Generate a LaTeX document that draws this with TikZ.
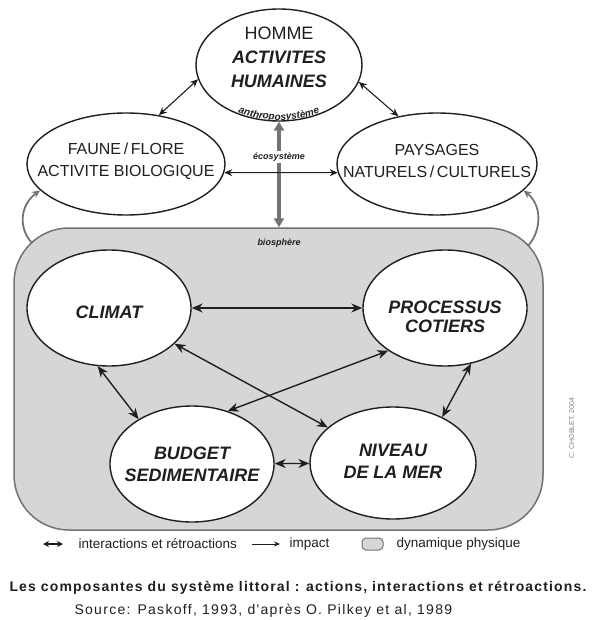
\documentclass[tikz,border=0pt]{standalone}
\usepackage{fontspec}
\setmainfont{Liberation Sans}
\newfontfamily\capfont[LetterSpace=8.2]{Liberation Sans}
\newfontfamily\srcfont[LetterSpace=9.3]{Liberation Sans}
\usetikzlibrary{shapes.geometric,arrows.meta,decorations.text}

\definecolor{biogray}{gray}{0.84}
\definecolor{edgegray}{gray}{0.45}
\definecolor{ink}{gray}{0.12}

\tikzset{
  blob/.style={ellipse, draw=ink, line width=1.4pt, fill=white, inner sep=0pt},
  biobox/.style={rectangle, rounded corners=55pt, fill=biogray, draw=edgegray, line width=1.5pt},
  bigtxt/.style={align=center, text=ink, font=\bfseries\itshape\fontsize{18}{21}\selectfont},
  toptxt/.style={align=center, text=ink, font=\fontsize{16}{22}\selectfont},
  both/.style={{Stealth[length=11pt,width=9pt]}-{Stealth[length=11pt,width=9pt]}, line width=1.4pt, draw=ink},
  smallboth/.style={{Stealth[length=8pt,width=7pt]}-{Stealth[length=8pt,width=7pt]}, line width=1.1pt, draw=ink},
  ecoarrow/.style={{Triangle[length=9pt,width=10pt]}-{Triangle[length=9pt,width=10pt]}, line width=4pt, draw=edgegray},
  feedback/.style={-{Stealth[length=8pt,width=7pt]}, line width=1.8pt, draw=edgegray},
  tag/.style={text=ink, font=\bfseries\itshape\fontsize{9}{9}\selectfont},
  legend/.style={anchor=west, text=ink, font=\fontsize{13.5}{14}\selectfont},
}

\begin{document}
\begin{tikzpicture}[x=1pt,y=-1pt]
  \useasboundingbox (0,0) rectangle (596,620);

  \node[biobox, minimum width=529pt, minimum height=302pt] (bio) at (278.5,379) {};

  \coordinate (lfoot) at (32,243);
  \coordinate (rfoot) at (528,246);

  \node[blob, minimum width=166pt, minimum height=112pt] (homme) at (279,65) {};
  \node[blob, minimum width=198pt, minimum height=102pt] (faune) at (126,164) {};
  \node[blob, minimum width=200pt, minimum height=102pt] (pays) at (437,164) {};

  \node[blob, minimum width=164pt, minimum height=116pt] (climat) at (109,308) {};
  \node[blob, minimum width=164pt, minimum height=116pt] (proc) at (445,308) {};
  \node[blob, minimum width=164pt, minimum height=116pt] (budget) at (192,464) {};
  \node[blob, minimum width=166pt, minimum height=112pt] (niveau) at (393,463) {};

  % labels
  \node[align=center, text=ink, font=\fontsize{18}{24}\selectfont, inner sep=0pt] (homme-t) at (279,57)
       {HOMME\\\textbf{\textit{ACTIVITES}}\\\textbf{\textit{HUMAINES}}};
  \node[toptxt] (faune-t) at (126,161) {FAUNE\,/\,FLORE\\ACTIVITE BIOLOGIQUE};
  \node[toptxt] (pays-t) at (437,161) {PAYSAGES\\NATURELS\,/\,CULTURELS};
  \node[bigtxt] (climat-t) at (109,312) {CLIMAT};
  \node[bigtxt, font=\bfseries\itshape\fontsize{18}{19}\selectfont] (proc-t) at (445,317) {PROCESSUS\\COTIERS};
  \node[bigtxt, font=\bfseries\itshape\fontsize{18}{22}\selectfont] (budget-t) at (192,464) {BUDGET\\SEDIMENTAIRE};
  \node[bigtxt, font=\bfseries\itshape\fontsize{18}{22}\selectfont] (niveau-t) at (393,461) {NIVEAU\\DE LA MER};

  \path[decorate, decoration={text along path, text align=center,
        text={|\bfseries\itshape\fontsize{10}{10}\selectfont\color{ink}|anthroposystème}}]
    (211.8,96.6) arc[start angle=215, end angle=325, x radius=82pt, y radius=55pt];

  % top links
  \draw[ecoarrow] (homme) -- (homme |- bio.north);
  \draw[smallboth] (homme.190) -- (faune.56);
  \draw[smallboth] (homme.-12) -- (pays.129);
  \draw[smallboth] (faune.-5) -- (pays.185);
  \node[tag, fill=white, inner sep=1.5pt] (eco) at (279,157) {écosystème};
  \node[tag] (biosph) at (279,243) {biosphère};

  \draw[feedback] (lfoot) .. controls (18,228) and (20,205) .. (faune.197);
  \draw[feedback] (rfoot) .. controls (542,230) and (542,205) .. (pays.-17);

  % physical links
  \draw[both] (climat) -- (proc);
  \draw[both] (climat) -- (niveau);
  \draw[both] (climat.-101) -- (budget.140);
  \draw[both] (proc.217) -- (budget.56);
  \draw[both] (niveau.43) -- (proc.-65);
  \draw[both] (budget) -- (niveau);

  % legend
  \draw[{Stealth[length=6pt,width=6pt]}-{Stealth[length=6pt,width=6pt]}, line width=1.2pt, draw=ink] (43,544) -- (63,544);
  \node[legend] (leg1) at (75,544) {interactions et rétroactions};
  \draw[-{Stealth[length=6pt,width=5pt]}, line width=0.8pt, draw=ink] (252,544) -- (280,544);
  \node[legend] (leg2) at (286,544) {impact};
  \draw[fill=biogray, draw=edgegray, line width=1pt, rounded corners=4pt] (362,538) rectangle (383,550);
  \node[legend] (leg3) at (393,544) {dynamique physique};

  \node[anchor=west, text=ink, font=\capfont\bfseries\fontsize{14}{14}\selectfont] (caption) at (6,588)
       {Les composantes du système littoral : actions, interactions et rétroactions.};
  \node[anchor=west, text=ink, font=\srcfont\fontsize{14}{14}\selectfont] (source) at (71,611)
       {Source: Paskoff, 1993, d'après O. Pilkey et al, 1989};

  \node[rotate=90, text=gray, font=\fontsize{7}{7}\selectfont] (credit) at (572,428) {C. CHOBLET, 2004};
\end{tikzpicture}
\end{document}
